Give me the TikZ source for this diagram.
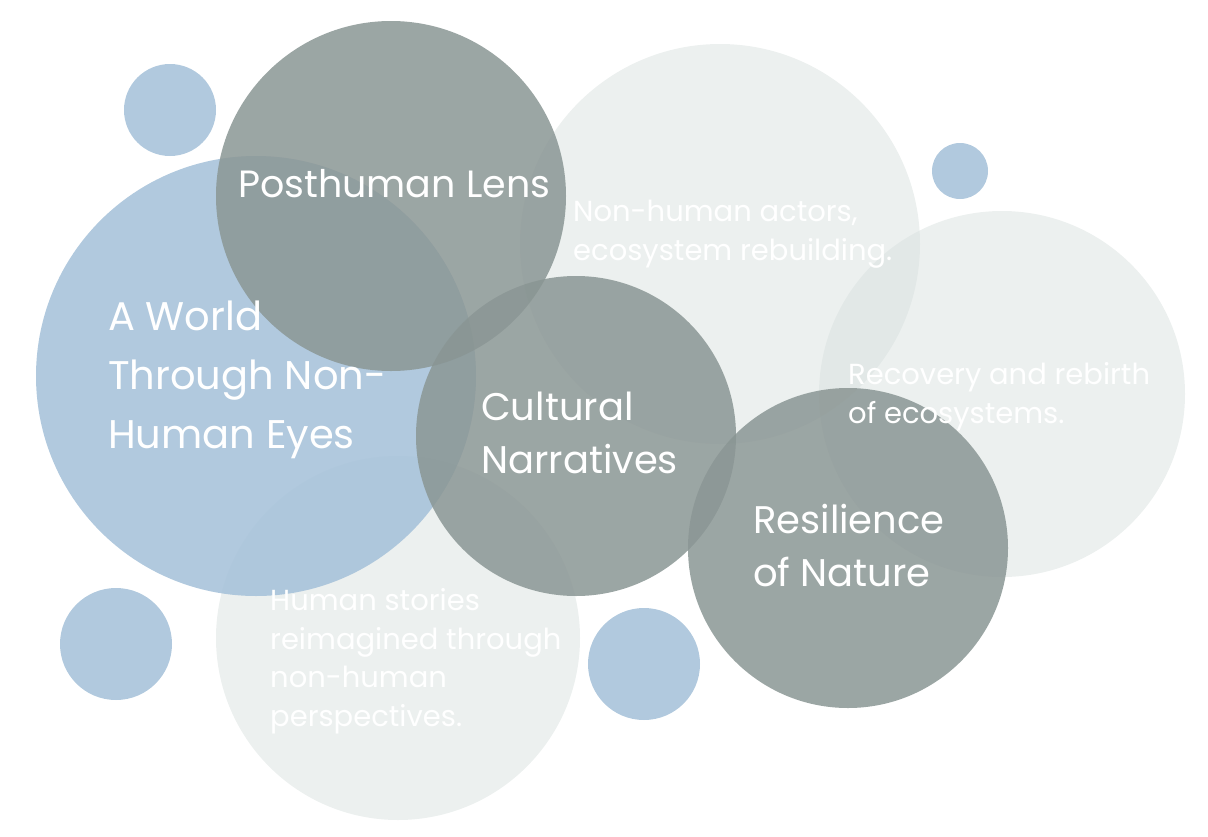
\documentclass[tikz,border=0pt]{standalone}
\usepackage{fontspec}
\setmainfont{Poppins}
\definecolor{slate}{HTML}{8A9694}
\definecolor{sky}{HTML}{A8C3DA}
\definecolor{mist}{HTML}{D9E1DF}
\tikzset{
  bubble/.style={circle,inner sep=0pt,draw=none,minimum size=#1},
  greyb/.style={bubble=#1,fill=slate,fill opacity=.85},
  blueb/.style={bubble=#1,fill=sky,fill opacity=.9},
  mistb/.style={bubble=#1,fill=mist,fill opacity=.5},
  headtxt/.style args={#1/#2}{text=white,align=left,anchor=base west,inner sep=0pt,font=\fontsize{#1}{#2}\selectfont},
  notetxt/.style={text=white,align=left,anchor=base west,inner sep=0pt,font=\fontsize{29}{38.5}\selectfont}
}
\begin{document}
\begin{tikzpicture}[x=1pt,y=-1pt]
  \useasboundingbox (0,0) rectangle (1208,836);
  % pale background bubbles
  \node[mistb=400pt] (actorsc) at (720,244) {};
  \node[mistb=366pt] (rebirthc) at (1002,394) {};
  \node[mistb=364pt] (storiesc) at (398,638) {};
  % blue bubbles
  \node[blueb=440pt] (worldc) at (256,376) {};
  \node[blueb=92pt] (dota) at (170,110) {};
  \node[blueb=56pt] (dotb) at (960,171) {};
  \node[blueb=112pt] (dotc) at (116,644) {};
  \node[blueb=112pt] (dotd) at (644,664) {};
  % grey bubbles
  \node[greyb=350pt] (lensc) at (391,196) {};
  \node[greyb=320pt] (culturec) at (576,436) {};
  \node[greyb=320pt] (naturec) at (848,548) {};
  % labels (placed at the baseline of the last line)
  \node[headtxt={38/57}] (lens) at (238,197) {Posthuman Lens};
  \node[headtxt={40/59}] (world) at (108,448) {A World\\Through Non-\\Human Eyes};
  \node[headtxt={38.5/52.5}] (culture) at (481,473) {Cultural\\Narratives};
  \node[headtxt={38.5/52.5}] (nature) at (753,586) {Resilience\\of Nature};
  \node[notetxt] (actors) at (573,260) {Non-human actors,\\ecosystem rebuilding.};
  \node[notetxt] (rebirth) at (848,423) {Recovery and rebirth\\of ecosystems.};
  \node[notetxt] (stories) at (270,726) {Human stories\\reimagined through\\non-human\\perspectives.};
\end{tikzpicture}
\end{document}
